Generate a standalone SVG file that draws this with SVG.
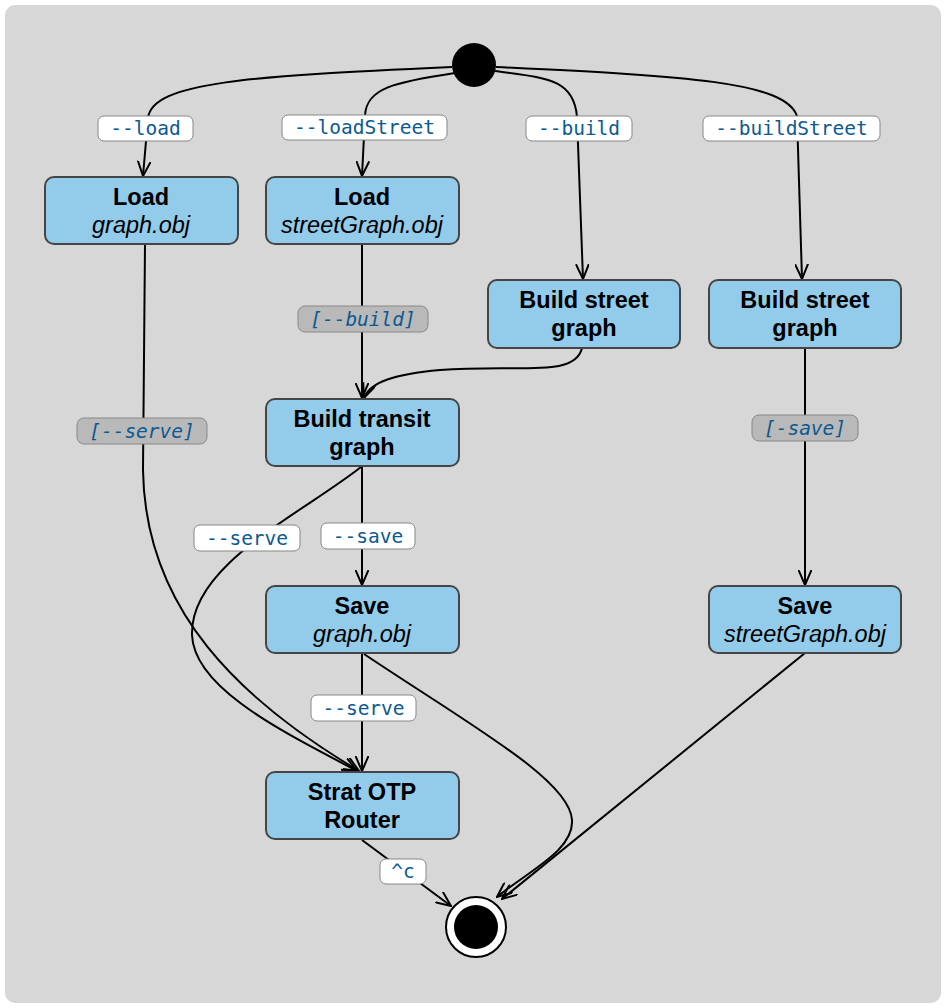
<svg xmlns="http://www.w3.org/2000/svg" width="946" height="1008" viewBox="0 0 946 1008">
<style>
.node rect{fill:#93cbea;stroke:#454545;stroke-width:2}
.t1{font-family:"Liberation Sans",Arial,sans-serif;font-weight:bold;font-size:23.5px;text-anchor:middle;fill:#000}
.t2{font-family:"Liberation Sans",Arial,sans-serif;font-style:italic;font-size:23.5px;text-anchor:middle;fill:#000}
.edge{fill:none;stroke:#000;stroke-width:2}
.lbl rect{fill:#fff;stroke:#888;stroke-width:1}
.lbl.g rect{fill:#b9b9b9}
.lbl text{font-family:"DejaVu Sans Mono",monospace;font-size:19.5px;fill:#0b5a92;text-anchor:middle}
.lbl.g text{font-style:italic}
</style>
<defs>
<marker id="arr" viewBox="0 0 16 14" refX="15" refY="7" markerWidth="16" markerHeight="14" markerUnits="userSpaceOnUse" orient="auto">
<path d="M0,0.5 L15,7 L0,13.5" fill="none" stroke="#000" stroke-width="2"/>
</marker>
</defs>
<rect x="0" y="0" width="946" height="1008" fill="#fff"/>
<rect x="5" y="5" width="936" height="998" rx="10" fill="#d7d7d7"/>

<g id="connectors">
<path class="edge" marker-end="url(#arr)" d="M452,67 C250,76 152,82 148,118 L143,176"/>
<path class="edge" marker-end="url(#arr)" d="M455,73 C395,82 366,88 365,116 L362,176"/>
<path class="edge" marker-end="url(#arr)" d="M495,71 C545,78 574,78 577,117 L583,279"/>
<path class="edge" marker-end="url(#arr)" d="M496,67 C690,76 785,82 797,116 L802,279"/>
<path class="edge" marker-end="url(#arr)" d="M145,244 L143,470 C145,610 240,700 359,771"/>
<path class="edge" marker-end="url(#arr)" d="M362,244 L362,398"/>
<path class="edge" marker-end="url(#arr)" d="M582,348 C575,378 520,364 440,370 C395,374 370,382 364,398"/>
<path class="edge" marker-end="url(#arr)" d="M805,348 L805,585"/>
<path class="edge" marker-end="url(#arr)" d="M362,466 L362,585"/>
<path class="edge" marker-end="url(#arr)" d="M361,467 C300,515 190,565 192,635 C194,690 290,735 357,771"/>
<path class="edge" marker-end="url(#arr)" d="M362,653 L362,771"/>
<path class="edge" marker-end="url(#arr)" d="M364,654 C470,725 570,780 572,820 C574,850 530,870 497,897"/>
<path class="edge" marker-end="url(#arr)" d="M805,653 L502,899"/>
<path class="edge" marker-end="url(#arr)" d="M362,840 L451,906"/>
</g>

<g id="start"><circle cx="474" cy="65" r="22" fill="#000"/></g>
<g id="end"><circle cx="476" cy="927" r="30" fill="#fff" stroke="#000" stroke-width="2"/><circle cx="476" cy="927" r="22" fill="#000"/></g>

<g id="load" class="node"><rect x="45" y="177" width="193" height="67" rx="9"/><text class="t1" x="141" y="205">Load</text><text class="t2" x="141" y="233">graph.obj</text></g>
<g id="loadStreet" class="node"><rect x="266" y="177" width="193" height="67" rx="9"/><text class="t1" x="362" y="205">Load</text><text class="t2" x="362" y="233">streetGraph.obj</text></g>
<g id="buildStreet1" class="node"><rect x="488" y="280" width="192" height="68" rx="9"/><text class="t1" x="584" y="308">Build street</text><text class="t1" x="584" y="336">graph</text></g>
<g id="buildStreet2" class="node"><rect x="709" y="280" width="192" height="68" rx="9"/><text class="t1" x="805" y="308">Build street</text><text class="t1" x="805" y="336">graph</text></g>
<g id="buildTransit" class="node"><rect x="266" y="399" width="193" height="67" rx="9"/><text class="t1" x="362" y="427">Build transit</text><text class="t1" x="362" y="455">graph</text></g>
<g id="saveGraph" class="node"><rect x="266" y="586" width="193" height="67" rx="9"/><text class="t1" x="362" y="614">Save</text><text class="t2" x="362" y="642">graph.obj</text></g>
<g id="saveStreet" class="node"><rect x="709" y="586" width="192" height="67" rx="9"/><text class="t1" x="805" y="614">Save</text><text class="t2" x="805" y="642">streetGraph.obj</text></g>
<g id="router" class="node"><rect x="266" y="772" width="193" height="67" rx="9"/><text class="t1" x="362" y="800">Strat OTP</text><text class="t1" x="362" y="828">Router</text></g>

<g id="labels">
<g class="lbl"><rect x="98" y="116" width="95" height="25" rx="6"/><text x="145.5" y="135">--load</text></g>
<g class="lbl"><rect x="282" y="115" width="165" height="25" rx="6"/><text x="364.5" y="134">--loadStreet</text></g>
<g class="lbl"><rect x="526" y="116" width="106" height="25" rx="6"/><text x="579" y="135">--build</text></g>
<g class="lbl"><rect x="703" y="116" width="177" height="25" rx="6"/><text x="791.5" y="135">--buildStreet</text></g>
<g class="lbl g"><rect x="298" y="306" width="130" height="26" rx="7"/><text x="363" y="326">[--build]</text></g>
<g class="lbl g"><rect x="77" y="418" width="130" height="26" rx="7"/><text x="142" y="438">[--serve]</text></g>
<g class="lbl g"><rect x="752" y="415" width="106" height="26" rx="7"/><text x="805" y="435">[-save]</text></g>
<g class="lbl"><rect x="194" y="525" width="106" height="26" rx="6"/><text x="247" y="545">--serve</text></g>
<g class="lbl"><rect x="321" y="523" width="94" height="26" rx="6"/><text x="368" y="543">--save</text></g>
<g class="lbl"><rect x="311" y="695" width="105" height="26" rx="6"/><text x="363.5" y="715">--serve</text></g>
<g class="lbl"><rect x="380" y="859" width="46" height="25" rx="6"/><text x="403" y="878">^c</text></g>
</g>
</svg>
